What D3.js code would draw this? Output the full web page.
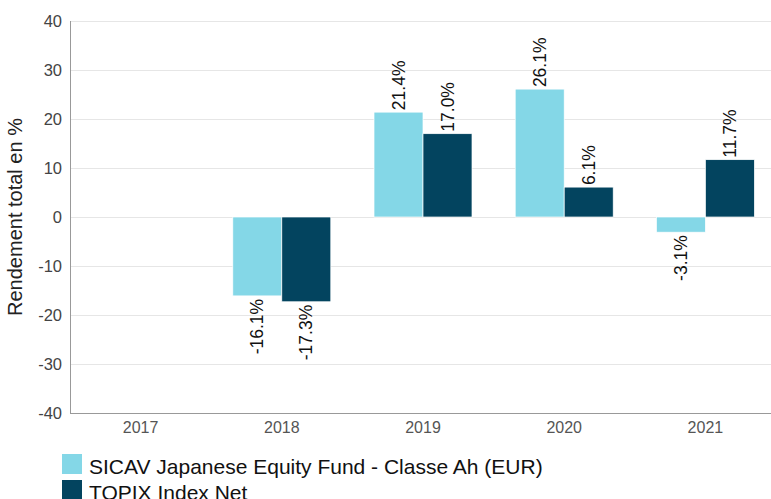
<!DOCTYPE html>
<html><head><meta charset="utf-8">
<script src="https://cdn.jsdelivr.net/npm/d3@7"></script>
<style>body{margin:0;background:#fff;}svg{display:block;font-family:"Liberation Sans",Arial,sans-serif;}</style>
</head><body>
<script>
const categories = ["2017","2018","2019","2020","2021"];
const seriesNames = ["SICAV Japanese Equity Fund - Classe Ah (EUR)","TOPIX Index Net"];
const fundValues = [null,-16.1,21.4,26.1,-3.1];
const indexValues = [null,-17.3,17.0,6.1,11.7];
const yTicks = [-40,-30,-20,-10,0,10,20,30,40];
const colors = ["#84d7e7","#03445f"];

const W=771,H=499;
const svg=d3.select("body").append("svg").attr("width",W).attr("height",H);
const x=d3.scaleBand().domain(categories).range([70,776]).paddingInner(0).paddingOuter(0);
const y=d3.scaleLinear().domain([-40,40]).range([413,21]);
const sub=d3.scaleBand().domain([0,1]).range([0,98]);

// grid
svg.append("g").selectAll("line").data(yTicks).join("line")
 .attr("x1",70).attr("x2",W).attr("y1",d=>y(d)+0.5).attr("y2",d=>y(d)+0.5)
 .attr("stroke","#e6e6e6").attr("stroke-width",1);

// y axis
const ya=svg.append("g").attr("transform","translate(70,0)")
 .call(d3.axisLeft(y).tickValues(yTicks).tickFormat(d=>String(d)).tickSize(0).tickPadding(8));
ya.select(".domain").attr("stroke","#999").attr("d","M0.5,21V413.5");
ya.selectAll("text").attr("font-size",16.5).attr("fill","#444").attr("font-family","Liberation Sans, Arial, sans-serif");

// x axis
const xa=svg.append("g").attr("transform","translate(0,413)")
 .call(d3.axisBottom(x).tickSize(0).tickPadding(9));
xa.select(".domain").attr("stroke","#999").attr("d","M70,0.5H"+W);
xa.selectAll("text").attr("font-size",16).attr("fill","#555").attr("font-family","Liberation Sans, Arial, sans-serif");

// y title
svg.append("text").attr("transform","translate(22,217) rotate(-90)")
 .attr("text-anchor","middle").attr("font-size",20).attr("fill","#222")
 .text("Rendement total en %");

const series=[fundValues,indexValues];
series.forEach((vals,si)=>{
  const data=categories.map((c,i)=>({c,v:vals[i]})).filter(d=>d.v!=null);
  const g=svg.append("g");
  g.selectAll("rect").data(data).join("rect")
   .attr("x",d=>x(d.c)+x.bandwidth()/2-49+sub(si))
   .attr("width",sub.bandwidth())
   .attr("y",d=>y(Math.max(0,d.v)))
   .attr("height",d=>Math.abs(y(d.v)-y(0)))
   .attr("fill",colors[si]).attr("stroke","#fff").attr("stroke-width",0.7);
  g.selectAll("text").data(data).join("text")
   .attr("transform",d=>{
     const cx=x(d.c)+x.bandwidth()/2-49+sub(si)+sub.bandwidth()/2;
     const yy=d.v>=0? y(d.v)-2 : y(d.v)+3;
     return `translate(${cx},${yy}) rotate(-90)`;})
   .attr("dy","0.35em")
   .attr("text-anchor",d=>d.v>=0?"start":"end")
   .attr("font-size",17.5).attr("fill","#111")
   .text(d=>d.v.toFixed(1)+"%");
});

// legend
const lg=svg.append("g");
seriesNames.forEach((n,i)=>{
  lg.append("rect").attr("x",62).attr("y",454+i*26).attr("width",20).attr("height",20).attr("fill",colors[i]);
  lg.append("text").attr("x",89).attr("y",473.5+i*26).attr("font-size",21).attr("fill","#111").text(n);
});
</script>
</body></html>
